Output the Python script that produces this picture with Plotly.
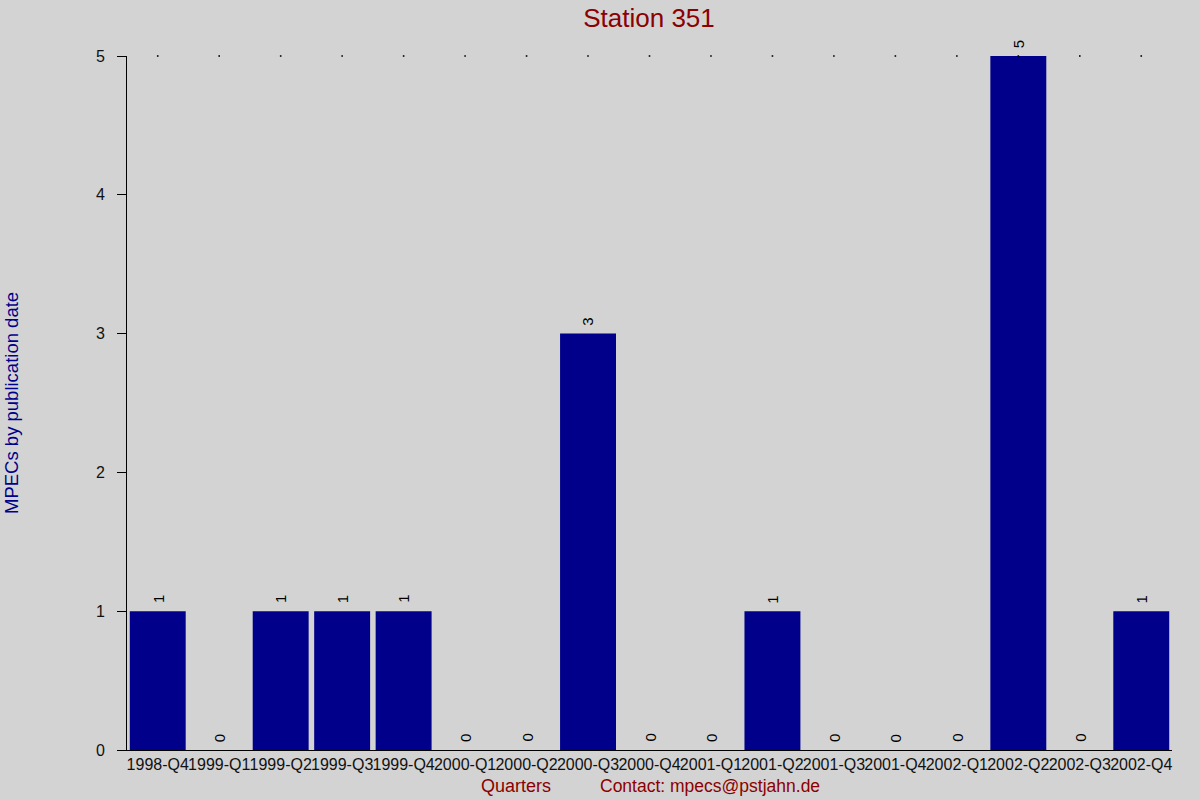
import plotly.graph_objects as go

quarters = ["1998-Q4", "1999-Q1", "1999-Q2", "1999-Q3", "1999-Q4", "2000-Q1",
            "2000-Q2", "2000-Q3", "2000-Q4", "2001-Q1", "2001-Q2", "2001-Q3",
            "2001-Q4", "2002-Q1", "2002-Q2", "2002-Q3", "2002-Q4"]
mpecs = [1, 0, 1, 1, 1, 0, 0, 3, 0, 0, 1, 0, 0, 0, 5, 0, 1]
y_ticks = [0, 1, 2, 3, 4, 5]

FONT = "Liberation Sans, Arial, sans-serif"
BG = "#d3d3d3"
L, R, T, B = 127, 28, 56, 50
PW = 1200 - L - R

fig = go.Figure()
ymax = max(y_ticks)
# dotted grid dots at top
fig.add_trace(go.Scatter(
    x=quarters, y=[ymax] * len(quarters), mode="markers",
    marker=dict(size=1.6, color="black", symbol="square", line=dict(width=0)),
    hoverinfo="skip", cliponaxis=False, showlegend=False))
fig.add_trace(go.Bar(
    x=quarters, y=mpecs, marker=dict(color="#00008b", line=dict(width=0)),
    showlegend=False, hoverinfo="x+y"))

for q, v in zip(quarters, mpecs):
    fig.add_annotation(x=q, y=v, text=str(v), textangle=-90, showarrow=False,
                       yanchor="bottom", xanchor="center", yshift=6,
                       font=dict(family=FONT, size=15, color="black"))

fig.add_annotation(x=(516 - L) / PW, y=0, xref="paper", yref="paper",
                   text="Quarters", showarrow=False, xanchor="center",
                   yanchor="middle", yshift=-36,
                   font=dict(family=FONT, size=18, color="#8b0000"))
fig.add_annotation(x=(710 - L) / PW, y=0, xref="paper", yref="paper",
                   text="Contact: mpecs@pstjahn.de", showarrow=False,
                   xanchor="center", yanchor="middle", yshift=-36,
                   font=dict(family=FONT, size=17.5, color="#8b0000"))
fig.add_annotation(x=0, y=0.5, xref="paper", yref="paper",
                   text="MPECs by publication date", showarrow=False,
                   textangle=-90, xanchor="center", yanchor="middle",
                   xshift=-(L - 11),
                   font=dict(family=FONT, size=18.5, color="#00008b"))

fig.update_layout(
    width=1200, height=800,
    paper_bgcolor=BG, plot_bgcolor=BG,
    margin=dict(l=L, r=R, t=T, b=B, autoexpand=False),
    bargap=0.09,
    font=dict(family=FONT, size=14, color="black"),
    title=dict(text="Station 351", x=649 / 1200, xanchor="center",
               y=1 - 18 / 800, yanchor="middle",
               font=dict(family=FONT, size=26, color="#8b0000")),
    xaxis=dict(type="category", tickmode="array", tickvals=quarters, ticktext=quarters,
               tickangle=0, showline=True, linecolor="black", linewidth=1,
               showgrid=False, ticks="", tickfont=dict(size=16, color="#111111"),
               range=[-0.5, len(quarters) - 0.5], zeroline=False),
    yaxis=dict(range=[0, ymax], tickmode="array", tickvals=y_ticks,
               showline=True, linecolor="black", linewidth=1, showgrid=False,
               zeroline=False, ticks="outside", ticklen=9, tickcolor="black",
               ticklabelstandoff=9,
               tickfont=dict(size=16, color="#111111")),
)

fig.write_html("out.html", config={"displayModeBar": False},
               post_script="document.body.style.margin='0';document.body.style.overflow='hidden';")
